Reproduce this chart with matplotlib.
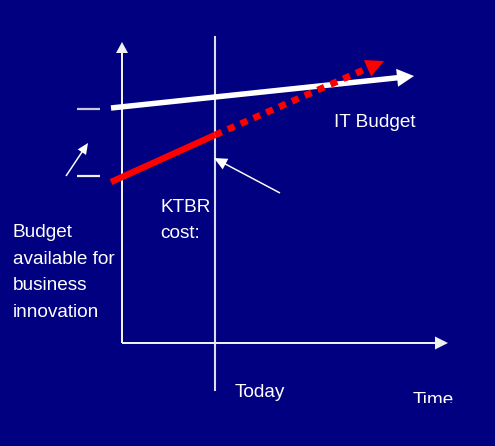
import matplotlib
matplotlib.use("Agg")
import matplotlib.pyplot as plt
from matplotlib.transforms import Bbox, TransformedBbox

# coordenadas en pixeles de la imagen (origen arriba a la izquierda)
it_budget_x = [111, 414]
it_budget_y = [108, 76]

ktbr_hoy_x = [111, 215]
ktbr_hoy_y = [182, 135]
ktbr_futuro_x = [215, 384]
ktbr_futuro_y = [135, 61]

eje_y = [(122, 343), (122, 42)]
eje_x = [(122, 343), (448, 343)]
hoy_x = 215
hoy_y = [37, 390]

marcas_y = [109, 176]
marcas_x = [77, 100]

flecha_chica = [(66, 176), (88, 143)]
flecha_ktbr = [(280, 193), (214, 158)]

lineas_budget = ["Budget", "available for", "business", "innovation"]
lineas_ktbr = ["KTBR", "cost:"]

fondo = "#000080"
blanco = "white"
rojo = "#ff0000"
fuente = "Liberation Sans"

fig = plt.figure(figsize=(4.95, 4.46), dpi=100)
fig.patch.set_facecolor(fondo)
ax = fig.add_axes([0, 0, 1, 1])
ax.set_facecolor(fondo)
ax.set_xlim(0, 495)
ax.set_ylim(446, 0)
ax.axis("off")


def flecha(p0, p1, ancho, cabeza_ancho, cabeza_largo, color):
    ax.arrow(p0[0], p0[1], p1[0] - p0[0], p1[1] - p0[1], width=ancho,
             head_width=cabeza_ancho, head_length=cabeza_largo,
             length_includes_head=True, fc=color, ec="none", zorder=3)


# ejes del diagrama
flecha(eje_y[0], eje_y[1], 2, 12, 11, "#f0f0f0")
flecha(eje_x[0], eje_x[1], 2, 13, 13, "#f0f0f0")
ax.plot([hoy_x, hoy_x], hoy_y, color="#dcdcec", lw=1.5, zorder=2)

for y, c in zip(marcas_y, ["#c8c8d8", "#f0f0f0"]):
    ax.plot(marcas_x, [y, y], color=c, lw=1.6, solid_capstyle="butt")

# IT budget
flecha((it_budget_x[0], it_budget_y[0]), (it_budget_x[1], it_budget_y[1]),
       5.5, 18, 17, blanco)

# costo KTBR
ax.plot(ktbr_hoy_x, ktbr_hoy_y, color=rojo, lw=4.6, solid_capstyle="butt", zorder=4)
ax.plot(ktbr_futuro_x[:1] + [ktbr_futuro_x[1] - 16], [ktbr_futuro_y[0], ktbr_futuro_y[1] + 7],
        color=rojo, lw=4.8, linestyle=(0, (1.1, 1.0)), dash_capstyle="butt", zorder=4)
flecha((ktbr_futuro_x[1] - 18, ktbr_futuro_y[1] + 8), (ktbr_futuro_x[1], ktbr_futuro_y[1]),
       0.1, 18, 18, rojo)

# flechas finas
flecha(flecha_chica[0], flecha_chica[1], 1.5, 10, 11, blanco)
flecha(flecha_ktbr[0], flecha_ktbr[1], 1.5, 12, 13, blanco)

# textos (cada linea por separado, alineada a la linea base)
kw = dict(color=blanco, family=fuente, fontsize=13.7, va="baseline", ha="left")
ax.text(334, 127, "IT Budget", **kw)
for i, linea in enumerate(lineas_ktbr):
    ax.text(160, 212 + i * 26.5, linea, **kw)
for i, linea in enumerate(lineas_budget):
    ax.text(13, 237 + i * 26.7, linea, **kw)
ax.text(235, 397, "Today", **kw)

# "Time" aparece cortado por abajo en el original
t = ax.text(413, 405, "Time", **kw)
caja = TransformedBbox(Bbox([[400, 380], [480, 402.5]]), ax.transData)
t.set_clip_box(caja)
t.set_clip_on(True)

fig.savefig("out.png", dpi=100, facecolor=fondo)
